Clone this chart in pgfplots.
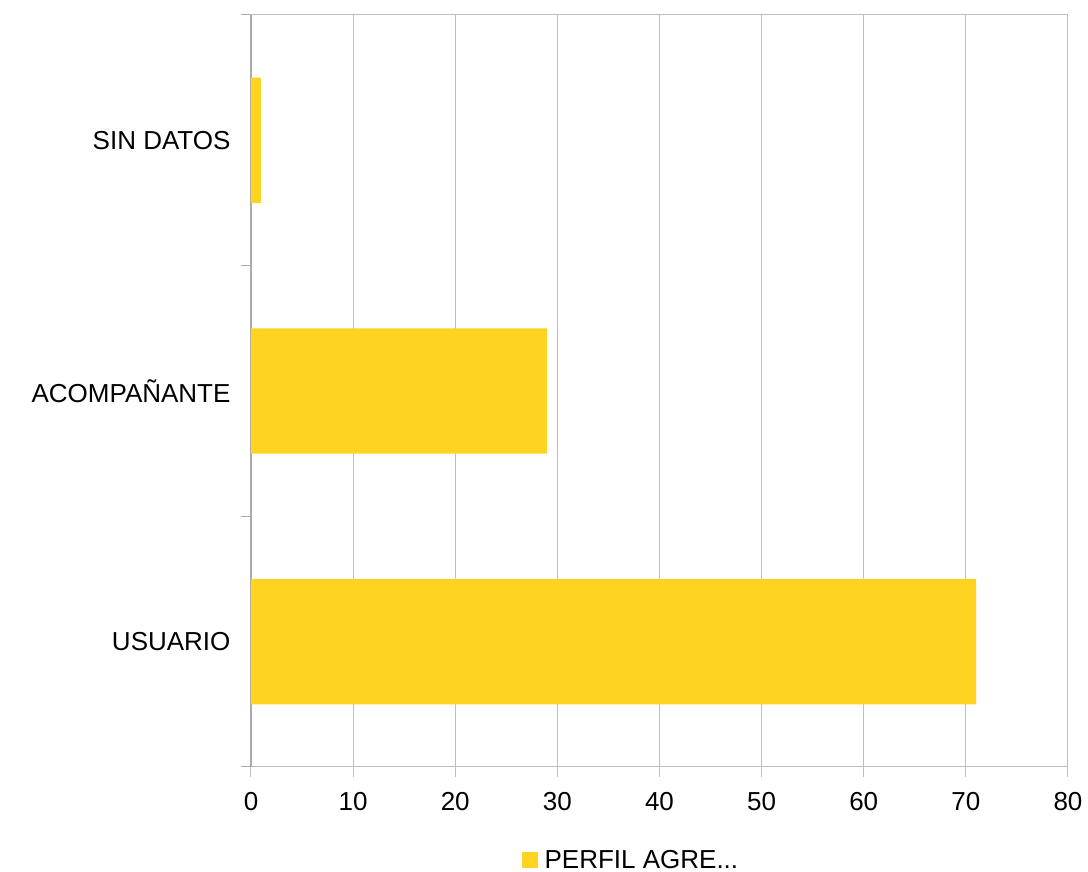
\documentclass[border=0pt]{standalone}
\usepackage{pgfplots}
\pgfplotsset{compat=1.18}
\usepackage{fontspec}
\setmainfont{Liberation Sans}
\definecolor{barcol}{RGB}{255,211,32}
\definecolor{gridcol}{RGB}{190,190,190}
\definecolor{axiscol}{RGB}{170,170,170}
\begin{document}
\begin{tikzpicture}
\useasboundingbox (-251pt,-105pt) rectangle (837pt,767pt);
\begin{axis}[
    at={(0pt,0pt)}, anchor=south west,
    scale only axis,
    width=817pt, height=752pt,
    xbar,
    bar width=0.5,
    xmin=0, xmax=80,
    ymin=-0.5, ymax=2.5,
    xtick={0,10,20,30,40,50,60,70,80},
    ytick={-0.5,0.5,1.5,2.5},
    yticklabels={},
    ytick style={axiscol, line width=1pt},
    extra y ticks={0,1,2},
    extra y tick labels={USUARIO, ACOMPAÑANTE, SIN DATOS},
    extra y tick style={tick style={draw=none}, grid=none},
    major tick length=10pt,
    xtick style={gridcol, line width=1pt},
    tick align=outside,
    xmajorgrids,
    grid style={gridcol, line width=1pt},
    axis line style={gridcol, line width=1pt},
    axis y line*=left,
    axis x line*=bottom,
    separate axis lines,
    y axis line style={axiscol, line width=1.5pt, -},
    x axis line style={-},
    ticklabel style={font=\fontsize{26}{30}\selectfont, text=black},
    xticklabel style={yshift=-12pt},
    yticklabel style={xshift=-7pt},
    /pgf/number format/assume math mode=true,
    legend style={at={(0.465,-0.124)}, anchor=center, draw=none,
        font=\fontsize{26}{30}\selectfont, inner sep=0pt},
    legend image code/.code={\fill[barcol] (0pt,-8pt) rectangle (16pt,8pt);},
    legend cell align=left,
    legend style={/tikz/every even column/.append style={column sep=6pt}},
    clip=false,
]
\addplot[fill=barcol, draw=none] coordinates {(71,0) (29,1) (1,2)};
\addlegendentry{\hspace{5pt}PERFIL AGRE{...}}
\draw[gridcol, line width=1pt] (axis cs:0,2.5) -- (axis cs:80,2.5);
\draw[gridcol, line width=1pt] (axis cs:80,2.5) -- (axis cs:80,-0.5);
\end{axis}
\end{tikzpicture}
\end{document}
